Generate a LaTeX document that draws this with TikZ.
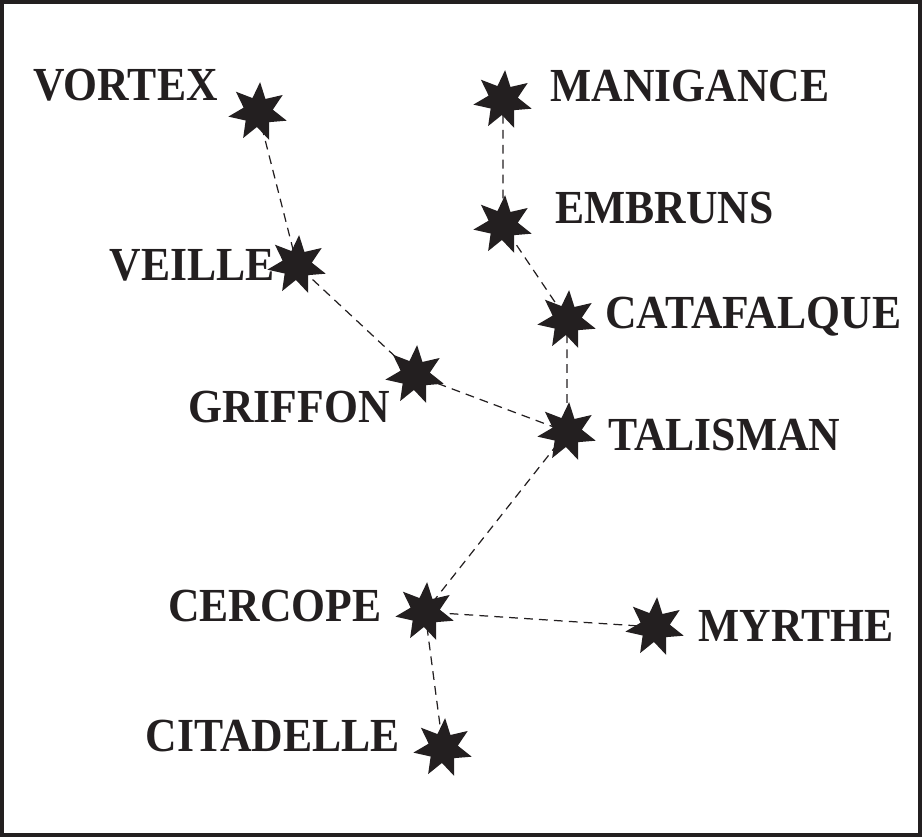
\documentclass[tikz,border=0pt]{standalone}
\usepackage{fontspec}
\setmainfont{Liberation Serif}[FakeStretch=0.92]
\usetikzlibrary{shapes.geometric}
\usetikzlibrary{backgrounds}
\definecolor{ink}{HTML}{231F20}
\tikzset{
  etoile/.style={star,star points=7,star point ratio=2.0,minimum size=1.2cm,inner sep=0pt,fill=ink,draw=none,shape border rotate=-4},
  nom/.style={font=\fontsize{27}{32}\selectfont\bfseries,text=ink,inner sep=0pt},
  lien/.style={draw=ink,line width=0.7pt,dash pattern=on 5pt off 3.5pt}
}

\begin{document}
\begin{tikzpicture}[x=0.02cm,y=-0.02cm]
\useasboundingbox (0,0) rectangle (922,837);
\draw[ink,line width=1.8pt] (2,2) rectangle (920,835);
% etoiles
\node[etoile] (vortex) at (258,112) {};
\node[etoile] (manigance) at (503,100) {};
\node[etoile] (embruns) at (503,225) {};
\node[etoile] (veille) at (297,265) {};
\node[etoile] (catafalque) at (567,320) {};
\node[etoile] (griffon) at (415,375) {};
\node[etoile] (talisman) at (567,432) {};
\node[etoile] (cercope) at (425,612) {};
\node[etoile] (myrthe) at (655,627) {};
\node[etoile] (citadelle) at (443,748) {};
% noms
\node[nom,anchor=base east] (lvortex) at (218,101) {VORTEX};
\node[nom,anchor=base west] (lmanigance) at (550,102) {MANIGANCE};
\node[nom,anchor=base west] (lembruns) at (555,224) {EMBRUNS};
\node[nom,anchor=base east] (lveille) at (275,281) {VEILLE};
\node[nom,anchor=base west] (lcatafalque) at (605,329) {CATAFALQUE};
\node[nom,anchor=base east] (lgriffon) at (390,422) {GRIFFON};
\node[nom,anchor=base west] (ltalisman) at (608,450) {TALISMAN};
\node[nom,anchor=base east] (lcercope) at (382,621) {CERCOPE};
\node[nom,anchor=base west] (lmyrthe) at (698,641) {MYRTHE};
\node[nom,anchor=base east] (lcitadelle) at (400,751) {CITADELLE};
% liens
\begin{scope}[on background layer]
\draw[lien] (vortex.center) -- (veille.center) -- (griffon.center) -- (talisman.center);
\draw[lien] (manigance.center) -- (embruns.center) -- (catafalque.center) -- (talisman.center);
\draw[lien] (talisman.center) -- (cercope.center) -- (myrthe.center);
\draw[lien] (cercope.center) -- (citadelle.center);
\end{scope}
\end{tikzpicture}
\end{document}
